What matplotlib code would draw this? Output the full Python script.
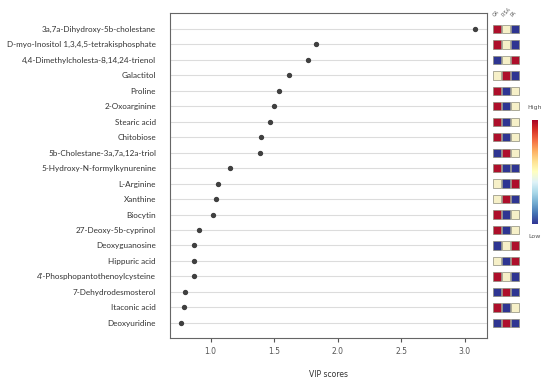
import numpy as np
import matplotlib
matplotlib.use("Agg")
import matplotlib.pyplot as plt
from matplotlib.colors import ListedColormap

# metabolites, top to bottom
metabolites = [
    "3a,7a-Dihydroxy-5b-cholestane",
    "D-myo-Inositol 1,3,4,5-tetrakisphosphate",
    "4,4-Dimethylcholesta-8,14,24-trienol",
    "Galactitol",
    "Proline",
    "2-Oxoarginine",
    "Stearic acid",
    "Chitobiose",
    "5b-Cholestane-3a,7a,12a-triol",
    "5-Hydroxy-N-formylkynurenine",
    "L-Arginine",
    "Xanthine",
    "Biocytin",
    "27-Deoxy-5b-cyprinol",
    "Deoxyguanosine",
    "Hippuric acid",
    "4'-Phosphopantothenoylcysteine",
    "7-Dehydrodesmosterol",
    "Itaconic acid",
    "Deoxyuridine",
]
vip = [3.08, 1.83, 1.77, 1.62, 1.54, 1.50, 1.47, 1.40, 1.39, 1.15,
       1.06, 1.04, 1.02, 0.91, 0.87, 0.87, 0.87, 0.80, 0.79, 0.77]

groups = ["OA", "PISA", "PA"]
# relative level per group: 0 = low, 1 = mid, 2 = high
levels = [
    [2, 1, 0], [2, 1, 0], [0, 1, 2], [1, 2, 0], [2, 0, 1],
    [2, 0, 1], [2, 0, 1], [2, 0, 1], [0, 2, 1], [2, 0, 0],
    [1, 0, 2], [1, 2, 0], [2, 0, 1], [2, 0, 1], [0, 1, 2],
    [1, 0, 2], [2, 1, 0], [0, 2, 0], [2, 0, 1], [0, 2, 0],
]

fig = plt.figure(figsize=(5.5, 3.82), dpi=100)
ax = fig.add_axes([170 / 550, 1 - 338 / 382, (487 - 170) / 550, (338 - 13) / 382])

y = np.arange(len(metabolites))
for yi in y:
    ax.axhline(yi, color="#dcdcdc", lw=0.8, zorder=0)
ax.scatter(vip, y, s=8, color="#404040", zorder=3)

ax.set_ylim(19.98, -1.03)
ax.set_xlim(0.68, 3.177)
ax.set_yticks(y)
ax.set_yticklabels(metabolites, fontsize=5.9, color="#333333", family="Lato")
ax.tick_params(axis="y", length=0, pad=10)
ax.set_xticks([1.0, 1.5, 2.0, 2.5, 3.0])
ax.tick_params(axis="x", labelsize=5.5, colors="#555555", length=3, width=0.8)
ax.set_xlabel("VIP scores", fontsize=5.5, color="#333333", labelpad=10)
for s in ax.spines.values():
    s.set_color("#666666")
    s.set_linewidth(0.8)

# heatmap of group levels
hax = fig.add_axes([492.5 / 550, 1 - 338 / 382, 27 / 550, (338 - 13) / 382])
cmap = ListedColormap(["#2e3592", "#f6f0c8", "#ae0f2b"])
for i, row in enumerate(levels):
    for j, v in enumerate(row):
        hax.add_patch(plt.Rectangle((j + 0.06, i - 0.27), 0.88, 0.54,
                                    facecolor=cmap(v), edgecolor="#8a8a7a", lw=0.5))
hax.set_xlim(0, 3)
hax.set_ylim(19.98, -1.03)
hax.axis("off")
for j, g in enumerate(groups):
    hax.text(j + 0.3, -0.75, g, rotation=45, fontsize=3.5, color="#555555",
             ha="left", va="bottom", rotation_mode="anchor")

# colour scale
cax = fig.add_axes([532 / 550, 1 - 224 / 382, 5.5 / 550, 104 / 382])
grad = np.linspace(1, 0, 256).reshape(-1, 1)
cax.imshow(grad, aspect="auto", cmap="RdYlBu_r")
cax.set_xticks([])
cax.set_yticks([])
for s in cax.spines.values():
    s.set_visible(False)
fig.text(534.5 / 550, 1 - 108 / 382, "High", fontsize=4.5, color="#555555", ha="center", va="center")
fig.text(534.5 / 550, 1 - 236 / 382, "Low", fontsize=4.5, color="#555555", ha="center", va="center")

fig.savefig("out.png", dpi=100)
